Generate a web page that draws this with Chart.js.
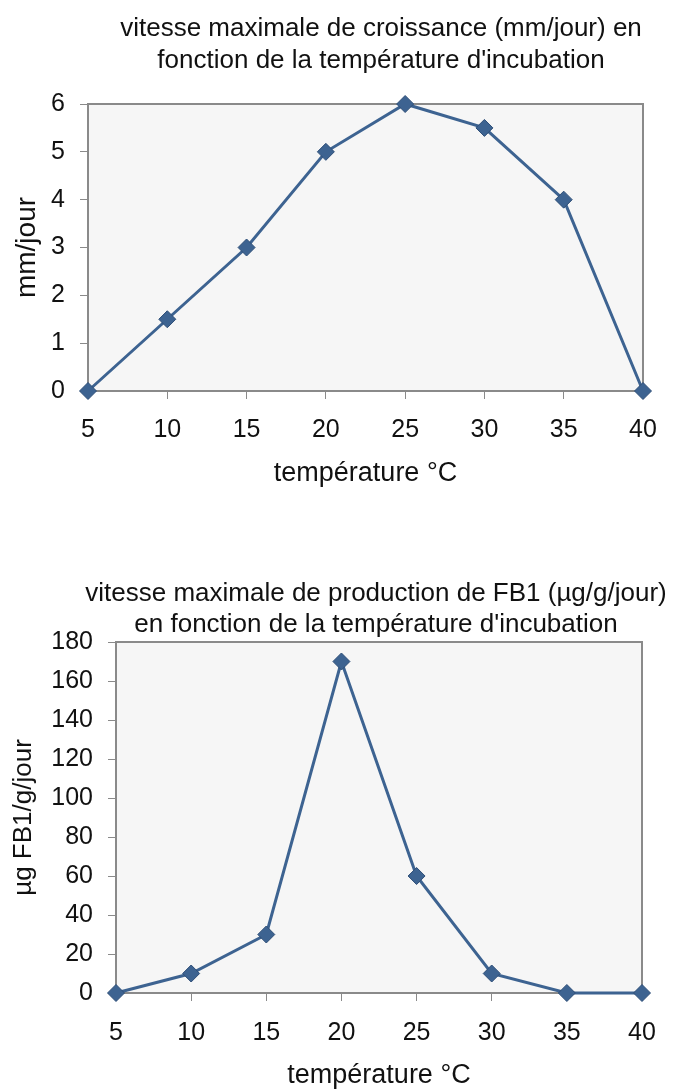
<!DOCTYPE html>
<html>
<head>
<meta charset="utf-8">
<script src="https://cdn.jsdelivr.net/npm/chart.js@4"></script>
<style>
  body { margin: 0; background: #fff; }
  #wrap1 { position: absolute; left: 0; top: 0; }
  #wrap2 { position: absolute; left: 0; top: 540px; }
</style>
</head>
<body>
<div id="wrap1"><canvas id="croissanceChart" width="675" height="500"></canvas></div>
<div id="wrap2"><canvas id="fb1Chart" width="675" height="552"></canvas></div>
<script>
// data
var temperatures = [5, 10, 15, 20, 25, 30, 35, 40];
var croissance = [0, 1.5, 3, 5, 6, 5.5, 4, 0];          // mm/jour
var productionFB1 = [0, 10, 30, 170, 60, 10, 0, 0];     // µg FB1/g/jour

var title1 = ["vitesse maximale de croissance (mm/jour) en", "fonction de la température d'incubation"];
var title2 = ["vitesse maximale de production de FB1 (µg/g/jour)", "en fonction de la température d'incubation"];

var lineColor = "#3d6391";
var fontFamily = "'Liberation Sans', Arial, sans-serif";

// grey plot background + frame like the old excel chart
var plotFrame = {
	id: "plotFrame",
	beforeDraw: function(chart) {
		var a = chart.chartArea;
		var ctx = chart.ctx;
		ctx.save();
		ctx.fillStyle = "#f6f6f6";
		ctx.fillRect(a.left, a.top, a.right - a.left, a.bottom - a.top);
		ctx.restore();
	},
	beforeDatasetsDraw: function(chart) {
		var a = chart.chartArea;
		var ctx = chart.ctx;
		ctx.save();
		ctx.strokeStyle = "#8a8a8a";
		ctx.lineWidth = 2;
		ctx.strokeRect(a.left, a.top, a.right - a.left, a.bottom - a.top);
		ctx.restore();
	}
};

// the excel titles are wider than the plot and not centred on the canvas,
// so they are drawn here instead of with the title plugin
var sideTitle = {
	id: "sideTitle",
	afterDraw: function(chart, args, o) {
		var ctx = chart.ctx;
		ctx.save();
		ctx.fillStyle = "#111";
		ctx.font = o.size + "px " + fontFamily;
		ctx.textAlign = "center";
		ctx.textBaseline = "middle";
		for (var i = 0; i < o.lines.length; i++) {
			ctx.fillText(o.lines[i], o.centerX, o.firstY + i * o.spacing);
		}
		ctx.restore();
	}
};

function makeChart(canvasId, values, yMax, yStep, yTitle, titleLines, opt) {
	var points = [];
	for (var i = 0; i < temperatures.length; i++) {
		points.push({ x: temperatures[i], y: values[i] });
	}
	var ctx = document.getElementById(canvasId).getContext("2d");
	return new Chart(ctx, {
		type: "line",
		data: {
			datasets: [{
				data: points,
				borderColor: lineColor,
				backgroundColor: lineColor,
				borderWidth: 3,
				pointStyle: "rectRot",
				pointRadius: 8.5,
				pointBorderWidth: 1,
				pointBorderColor: "#2f4f78",
				tension: 0,
				clip: false
			}]
		},
		options: {
			responsive: false,
			animation: false,
			layout: { padding: { right: opt.padRight, left: 0, top: opt.padTop, bottom: 0 } },
			plugins: {
				legend: { display: false },
				tooltip: { enabled: false },
				title: { display: false },
				sideTitle: { lines: titleLines, size: 26, centerX: opt.titleX, firstY: opt.titleY, spacing: opt.titleGap }
			},
			scales: {
				x: {
					type: "linear",
					min: 5,
					max: 40,
					grid: { display: true, drawOnChartArea: false, tickLength: 8, color: "#8a8a8a" },
					border: { color: "#8a8a8a", width: 2 },
					ticks: { stepSize: 5, color: "#111", padding: opt.xPad, maxRotation: 0,
						font: { family: fontFamily, size: 25 } },
					title: { display: true, text: "température °C", color: "#111",
						font: { family: fontFamily, size: 27 }, padding: { top: 0, bottom: opt.xTitleBottom } },
					afterFit: function(scale) { scale.height = opt.xHeight; }
				},
				y: {
					min: 0,
					max: yMax,
					grid: { display: true, drawOnChartArea: false, tickLength: 8, color: "#8a8a8a" },
					border: { color: "#8a8a8a", width: 2 },
					ticks: { stepSize: yStep, color: "#111", padding: 15,
						font: { family: fontFamily, size: 25 } },
					title: { display: true, text: yTitle, color: "#111",
						font: { family: fontFamily, size: opt.yTitleSize }, padding: { top: opt.yTitleTop, bottom: 0 } },
					afterFit: function(scale) { scale.width = opt.yWidth; }
				}
			}
		},
		plugins: [plotFrame, sideTitle]
	});
}

makeChart("croissanceChart", croissance, 6, 1, "mm/jour", title1, {
	padRight: 32, padTop: 104, titleX: 381, titleY: 29, titleGap: 32, xPad: 16, xTitleBottom: 10, xHeight: 109,
	yTitleSize: 28, yTitleTop: 10, yWidth: 88
});

makeChart("fb1Chart", productionFB1, 180, 20, "µg FB1/g/jour", title2, {
	padRight: 33, padTop: 102, titleX: 376, titleY: 54, titleGap: 31, xPad: 17, xTitleBottom: 0, xHeight: 99,
	yTitleSize: 26, yTitleTop: 8, yWidth: 116
});
</script>
</body>
</html>
